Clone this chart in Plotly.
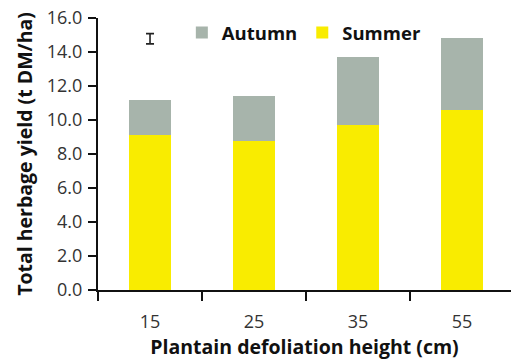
import plotly.graph_objects as go

# Plantain defoliation height treatments and seasonal herbage yields (t DM/ha)
heights = ["15", "25", "35", "55"]
summer = [9.09, 8.79, 9.68, 10.56]
autumn = [2.06, 2.65, 4.00, 4.29]

# LSD bar shown near the top left
lsd_x = ["15"]
lsd_y = [14.78]
lsd_half = [0.30]

y_ticks = [0, 2, 4, 6, 8, 10, 12, 14, 16]
y_tick_text = [f"{v:.1f}" for v in y_ticks]

YELLOW = "#F9EC00"
GREY = "#A7B4AB"
FONT = "Open Sans"

fig = go.Figure()
fig.add_trace(go.Bar(x=heights, y=summer, name="Summer", marker_color=YELLOW,
                     marker_line_width=0, width=0.405))
fig.add_trace(go.Bar(x=heights, y=autumn, name="Autumn", marker_color=GREY,
                     marker_line_width=0, width=0.405))
fig.add_trace(go.Scatter(
    x=lsd_x, y=lsd_y, mode="markers", marker=dict(size=0.1, color="#222"),
    error_y=dict(type="data", array=lsd_half, visible=True, thickness=1.6,
                 width=4, color="#222"),
    showlegend=False, hoverinfo="skip"))

fig.update_layout(
    width=511, height=362,
    margin=dict(l=98, r=0, t=18, b=72),
    barmode="stack",
    plot_bgcolor="white", paper_bgcolor="white",
    font=dict(family=FONT, size=18, color="#333"),
    showlegend=True,
    legend=dict(orientation="h", traceorder="reversed",
                x=0.203, y=1.015, xanchor="left", yanchor="top",
                font=dict(family=FONT, size=18.5, color="#111", weight="bold"),
                bgcolor="rgba(0,0,0,0)", itemclick=False),
    xaxis=dict(
        type="category", range=[-0.5, 3.47],
        showline=True, linecolor="#111", linewidth=2,
        ticks="outside", ticklen=9, tickwidth=2, tickcolor="#111",
        tickson="boundaries", ticklabelstandoff=14,
        tickfont=dict(family=FONT, size=18, color="#333"),
        title=dict(text="Plantain defoliation height (cm)",
                   font=dict(family=FONT, size=19.5, color="#111", weight="bold"),
                   standoff=6),
        showgrid=False, zeroline=False,
    ),
    yaxis=dict(
        range=[0, 16], tickvals=y_ticks, ticktext=y_tick_text,
        showline=True, linecolor="#111", linewidth=2,
        ticks="outside", ticklen=8, tickwidth=2, tickcolor="#111",
        ticklabelstandoff=2,
        tickfont=dict(family=FONT, size=18, color="#333"),
        title=dict(text="Total herbage yield (t DM/ha)",
                   font=dict(family=FONT, size=19.5, color="#111", weight="bold"),
                   standoff=9),
        showgrid=False, zeroline=False,
    ),
)

fig.write_html("out.html")
